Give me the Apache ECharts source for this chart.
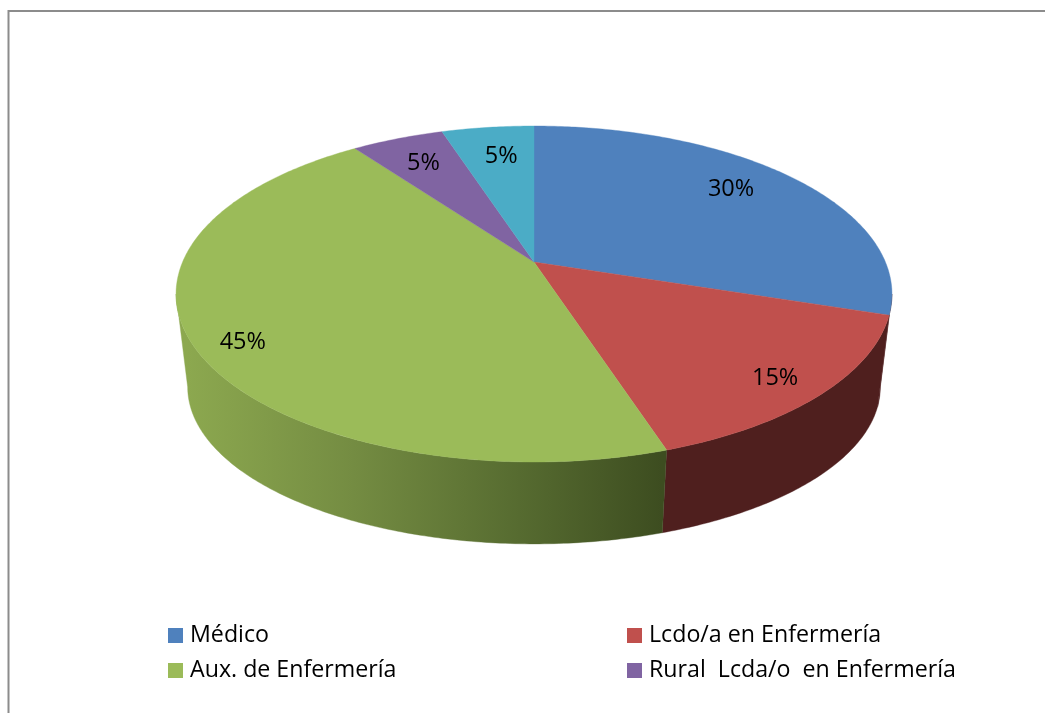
<!DOCTYPE html>
<html>
<head>
<meta charset="utf-8">
<style>html,body{margin:0;padding:0;background:#fff}#c{width:1045px;height:713px}</style>
<script src="https://cdn.jsdelivr.net/npm/echarts@6/dist/echarts.min.js"></script>
</head>
<body>
<div id="c"></div>
<script>
// Data
var categories = ['Médico', 'Lcdo/a en Enfermería', 'Aux. de Enfermería', 'Rural  Lcda/o  en Enfermería', 'Otros'];
var values = [30, 15, 45, 5, 5];
var legendCategories = categories.slice(0, 4);

// Appearance
var topColors = ['#4f81bd', '#c0504d', '#9bbb59', '#8064a2', '#4bacc6'];
var labelRadius = [0.79, 0.87, 0.88, 0.785, 0.765];
var labelAngleShift = [-3, 1, -3.5, 0, 1];
var FONT = '"Open Sans", Lato, sans-serif';
var LABEL_SIZE = 23.5;
var LEGEND_SIZE = 23.2;

// Perspective projection of the pie plane
var CX = 534, K = 0.1905;
var TOP = { A: 351.4, B: 161.9, ay: 262 };
var BOT = { A: 340, B: 151.3, ay: 357 };
var TANGENT = Math.acos(-K) * 180 / Math.PI; // silhouette angle, degrees from 12 o'clock

function project(p, deg, r) {
  var t = deg * Math.PI / 180, u = r * Math.sin(t), v = -r * Math.cos(t), d = 1 - K * v;
  return [CX + p.A * u / d, p.ay + p.B * v / d];
}
function rim(p, a, b) {
  var pts = [], n = Math.max(2, Math.ceil(Math.abs(b - a) * 1.5));
  for (var i = 0; i <= n; i++) pts.push(project(p, a + (b - a) * i / n, 1));
  return pts;
}
var total = values.reduce(function (s, v) { return s + v; }, 0);

function makeRender(idx) {
  return function (params, api) {
    var before = 0;
    for (var i = 0; i < idx; i++) before += values[i];
    var val = api.value(0);
    var a0 = before / total * 360, a1 = (before + val) / total * 360;
    var children = [];

    // front wall (only the visible arc)
    var w0 = Math.max(a0, TANGENT), w1 = Math.min(a1, 360 - TANGENT);
    if (w1 > w0) {
      var topRim = rim(TOP, w0, w1);
      var botRim = rim(BOT, w1, w0);
      var fill = idx === 2
        ? new echarts.graphic.LinearGradient(187, 0, 662, 0, [
            { offset: 0, color: '#8ca84f' },
            { offset: 0.35, color: '#748c42' },
            { offset: 0.7, color: '#566b30' },
            { offset: 1, color: '#3d4d20' }
          ], true)
        : '#4f1f1e';
      children.push({ type: 'polygon', z2: 1, shape: { points: topRim.concat(botRim) },
        style: { fill: fill, stroke: fill, lineWidth: 0.4 } });
    }

    // top face
    var pts = [project(TOP, 0, 0)].concat(rim(TOP, a0, a1));
    children.push({ type: 'polygon', z2: 2, shape: { points: pts },
      style: { fill: topColors[idx], stroke: topColors[idx], lineWidth: 0.4 } });

    // percent label
    var mid = (a0 + a1) / 2 + labelAngleShift[idx];
    var lp = project(TOP, mid, labelRadius[idx]);
    children.push({ type: 'text', z2: 5, style: {
      x: lp[0], y: lp[1] + 1, text: Math.round(val / total * 100) + '%',
      textAlign: 'center', textVerticalAlign: 'middle',
      fill: '#000', font: LABEL_SIZE + 'px ' + FONT } });

    return { type: 'group', children: children };
  };
}

var series = categories.map(function (name, i) {
  return {
    type: 'custom', name: name, coordinateSystem: 'none', silent: true,
    animation: false, z: 3,
    itemStyle: { color: topColors[i] },
    data: [[values[i]]],
    renderItem: makeRender(i)
  };
});

var legendSpots = [[168, 624], [627, 624], [168, 659], [627, 659]];
var legends = legendCategories.map(function (name, i) {
  return {
    left: legendSpots[i][0], top: legendSpots[i][1], orient: 'horizontal', padding: 0,
    data: [{ name: name, icon: 'rect' }], selectedMode: false,
    itemWidth: 15, itemHeight: 15,
    textStyle: { fontFamily: FONT, fontSize: LEGEND_SIZE, color: '#000', padding: [0, 0, 0, 2] }
  };
});

var chart = echarts.init(document.getElementById('c'), null, { renderer: 'canvas', width: 1045, height: 713 });
chart.setOption({
  animation: false,
  backgroundColor: '#fff',
  color: topColors,
  legend: legends,
  graphic: [{
    type: 'polyline', silent: true,
    shape: { points: [[8.5, 713], [8.5, 11], [1045, 11]] },
    style: { stroke: '#8c8c8c', lineWidth: 2, fill: null }
  }],
  series: series
});
</script>
</body>
</html>
